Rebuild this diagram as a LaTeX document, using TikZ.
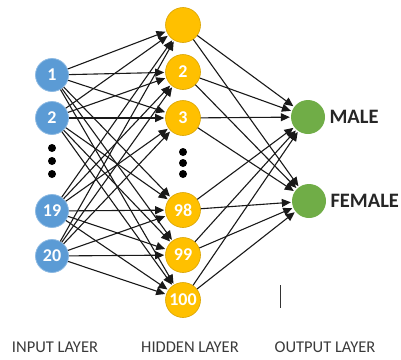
\documentclass[tikz,border=0pt]{standalone}
\usepackage{fontspec}
\setmainfont{Carlito}
\usetikzlibrary{arrows.meta}
\definecolor{inblue}{HTML}{5B9BD5}
\definecolor{hidyel}{HTML}{FFC000}
\definecolor{outgrn}{HTML}{70AD47}
\definecolor{labgray}{HTML}{3A3A3A}
\tikzset{
  inneuron/.style={circle, fill=inblue, draw=inblue!70!white, line width=0.8pt, minimum size=33pt, inner sep=0pt, text=white, font=\fontsize{18}{18}\selectfont\bfseries},
  hidneuron/.style={circle, fill=hidyel, draw=hidyel!85!black, line width=0.6pt, minimum size=35pt, inner sep=0pt, text=white, font=\fontsize{18}{18}\selectfont\bfseries},
  outneuron/.style={circle, fill=outgrn, minimum size=34pt, inner sep=0pt},
  dotmark/.style={circle, fill=black, minimum size=8pt, inner sep=0pt},
  conn/.style={-{Triangle[length=9pt,width=8pt]}, line width=1.1pt, draw=black!90, shorten >=1pt},
  outlab/.style={anchor=west, font=\fontsize{20.5}{20.5}\selectfont\bfseries, text=black!85},
  laylab/.style={font=\fontsize{16.5}{16.5}\selectfont, text=labgray},
}
\begin{document}
\begin{tikzpicture}[x=1pt,y=-1pt]
\useasboundingbox (0,0) rectangle (401,359);
% input layer
\node[inneuron] (i1) at (52,75) {1};
\node[inneuron] (i2) at (52,118) {2};
\node[inneuron] (i19) at (52,211) {19};
\node[inneuron] (i20) at (52,256) {20};
\node[dotmark] (id1) at (52,148) {};
\node[dotmark] (id2) at (52,161) {};
\node[dotmark] (id3) at (52,174) {};
% hidden layer
\node[hidneuron] (h1) at (183,25) {};
\node[hidneuron] (h2) at (183,72) {2};
\node[hidneuron] (h3) at (183,118) {3};
\node[hidneuron] (h98) at (183,210) {98};
\node[hidneuron] (h99) at (183,255) {99};
\node[hidneuron] (h100) at (183,300) {100};
\node[dotmark] (hd1) at (183,152) {};
\node[dotmark] (hd2) at (183,163) {};
\node[dotmark] (hd3) at (183,174) {};
% output layer
\node[outneuron] (male) at (308,117) {};
\node[outneuron] (female) at (309,201) {};
\node[outlab] (malelab) at (326,117) {MALE};
\node[outlab] (femalelab) at (327,201) {FEMALE};
% connections
\foreach \a in {i1,i2,i19,i20}{
  \foreach \b in {h1,h2,h3,h98,h99,h100}{
    \draw[conn] (\a) -- (\b);
  }
}
\foreach \a in {h1,h2,h3,h98,h99,h100}{
  \foreach \b in {male,female}{
    \draw[conn] (\a) -- (\b);
  }
}
% stray cursor mark
\coordinate (c1) at (280.5,285);
\coordinate (c2) at (280.5,308);
\draw[line width=0.9pt, black!80] (c1) -- (c2);
% layer labels
\node[laylab] (inlab) at (55,347) {INPUT LAYER};
\node[laylab] (hidlab) at (190,347) {HIDDEN LAYER};
\node[laylab] (outlabel) at (325,347) {OUTPUT LAYER};
\end{tikzpicture}
\end{document}
